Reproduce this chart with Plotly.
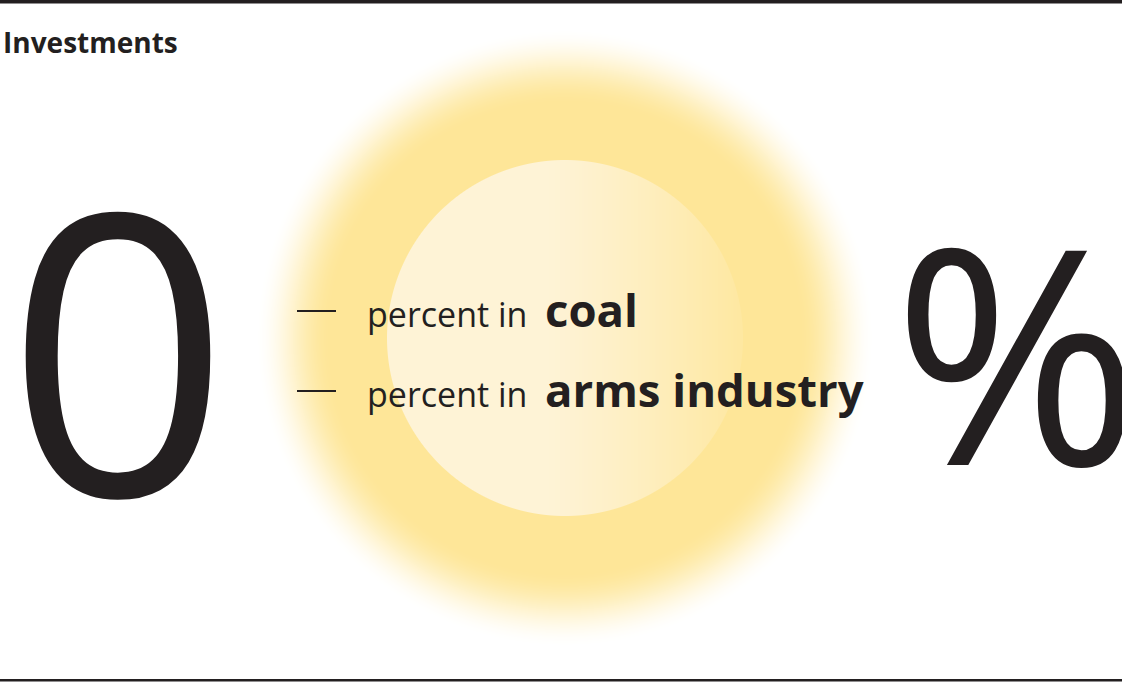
import base64
import struct
import zlib

import numpy as np
import plotly.graph_objects as go

# ---------------- data ----------------
title_text = "Investments"
categories = ["coal", "arms industry"]
share_percent = [0, 0]          # both investments are 0 percent
prefix_text = "percent in"
unit_symbol = "%"

# ---------------- style ----------------
W, H = 1122, 682
INK = "#231f20"
FONT = "Open Sans"
YELLOW = np.array([254, 230, 152], dtype=float)
CREAM = np.array([254, 243, 214], dtype=float)


def make_png(rgba):
    h, w, _ = rgba.shape
    raw = b"".join(b"\x00" + rgba[i].tobytes() for i in range(h))

    def chunk(tag, data):
        c = struct.pack(">I", len(data)) + tag + data
        return c + struct.pack(">I", zlib.crc32(tag + data) & 0xFFFFFFFF)

    png = b"\x89PNG\r\n\x1a\n"
    png += chunk(b"IHDR", struct.pack(">IIBBBBB", w, h, 8, 6, 0, 0, 0))
    png += chunk(b"IDAT", zlib.compress(raw, 9))
    png += chunk(b"IEND", b"")
    return "data:image/png;base64," + base64.b64encode(png).decode()


# glow decoration (soft yellow halo with a pale inner disc)
gx0, gy0, gw, gh = 250, 22, 632, 634
cx, cy = 565.0, 338.0
xs = np.arange(gw) + gx0 + 0.5
ys = np.arange(gh) + gy0 + 0.5
X, Y = np.meshgrid(xs, ys)
R = np.hypot(X - cx, Y - cy)
r1, r2 = 234.0, 310.0
t = np.clip((R - r1) / (r2 - r1), 0, 1)
outer_a = 1 - (t * t * (3 - 2 * t))
inner_mask = np.clip(178.0 - R + 0.5, 0, 1)
tg = np.clip((X - 545.0) / 215.0, 0, 1)
tg = tg ** 1.2 * 0.95
inner_col = CREAM[None, None, :] * (1 - tg[..., None]) + YELLOW[None, None, :] * tg[..., None]
col = YELLOW[None, None, :] * (1 - inner_mask[..., None]) + inner_col * inner_mask[..., None]
alpha = np.maximum(outer_a, inner_mask)
rgba = np.dstack([col, alpha[..., None] * 255]).round().clip(0, 255).astype(np.uint8)
glow_src = make_png(rgba)

fig = go.Figure()
fig.add_trace(go.Scatter(x=[0, W], y=[0, H], mode="markers",
                         marker=dict(opacity=0), hoverinfo="skip", showlegend=False))

fig.add_layout_image(dict(source=glow_src, xref="paper", yref="paper",
                          x=gx0 / W, y=1 - gy0 / H, sizex=gw / W, sizey=gh / H,
                          xanchor="left", yanchor="top", sizing="stretch", layer="below"))

shapes = [
    dict(type="line", x0=0, x1=W, y0=1.8, y1=1.8, line=dict(color=INK, width=3.6)),
    dict(type="line", x0=0, x1=W, y0=680.3, y1=680.3, line=dict(color=INK, width=2.4)),
]
row_y = [311, 391]
for ry in row_y:
    shapes.append(dict(type="line", x0=297, x1=336, y0=ry, y1=ry,
                       line=dict(color=INK, width=2.2)))

ann = []
ann.append(dict(x=1, y=42, text=f"<b>{title_text}</b>", xanchor="left", yanchor="middle",
                showarrow=False, font=dict(family=FONT, size=28, color=INK)))
ann.append(dict(x=118, y=344, text=str(share_percent[0]), xanchor="center", yanchor="middle",
                showarrow=False, font=dict(family=FONT, size=392, color=INK)))
ann.append(dict(x=1017, y=348, text=unit_symbol, xanchor="center", yanchor="middle",
                showarrow=False, font=dict(family=FONT, size=300, color=INK)))
for cat, ry in zip(categories, row_y):
    base = ry + 16
    ann.append(dict(x=365, y=base - 13.2, text=prefix_text, xanchor="left", yanchor="middle",
                    showarrow=False, font=dict(family=FONT, size=34, color=INK)))
    ann.append(dict(x=543, y=base - 17.6, text=f"<b>{cat}</b>", xanchor="left", yanchor="middle",
                    showarrow=False, font=dict(family=FONT, size=45.5, color=INK)))

fig.update_layout(
    width=W, height=H, margin=dict(l=0, r=0, t=0, b=0),
    paper_bgcolor="white", plot_bgcolor="rgba(0,0,0,0)",
    xaxis=dict(range=[0, W], visible=False, fixedrange=True),
    yaxis=dict(range=[H, 0], visible=False, fixedrange=True),
    shapes=shapes, annotations=ann, showlegend=False,
)

fig.write_html("out.html", config={"displayModeBar": False},
               post_script="document.body.style.margin='0';")
